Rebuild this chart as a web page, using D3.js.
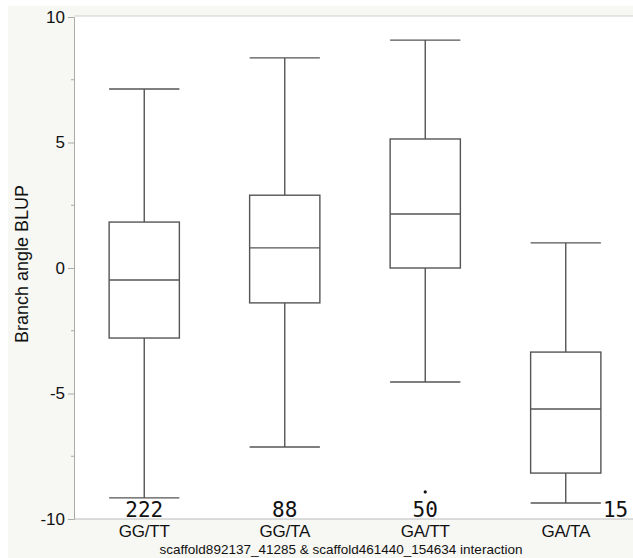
<!DOCTYPE html>
<html>
<head>
<meta charset="utf-8">
<script src="https://cdn.jsdelivr.net/npm/d3@7"></script>
<style>
  body { margin: 0; background: #fff; }
  svg { display: block; }
</style>
</head>
<body>
<script>
var width = 633,
    height = 558;

// data
var categories = ["GG/TT", "GG/TA", "GA/TT", "GA/TA"];
var whiskerHigh = [7.13, 8.37, 9.08, 1.0];
var q3 = [1.83, 2.9, 5.14, -3.35];
var medians = [-0.48, 0.8, 2.15, -5.62];
var q1 = [-2.79, -1.39, 0.0, -8.17];
var whiskerLow = [-9.16, -7.13, -4.54, -9.36];
var counts = [222, 88, 50, 15];
var outliers = [{cat: "GA/TT", value: -8.92}];
var yTicks = [-10, -5, 0, 5, 10];
var yMinorTicks = [-7.5, -2.5, 2.5, 7.5];

var margin = {top: 17, right: -3, bottom: 39, left: 74};

var svg = d3.select("body").append("svg")
    .attr("width", width)
    .attr("height", height);

// off-white frame, white plot area
svg.append("rect")
    .attr("x", 8).attr("y", 6)
    .attr("width", width - 8).attr("height", height - 6)
    .attr("fill", "#f7f7f3");

var x = d3.scaleBand()
    .domain(categories)
    .range([margin.left, width - margin.right])
    .padding(0);

var y = d3.scaleLinear()
    .domain([-10, 10])
    .range([height - margin.bottom, margin.top]);

svg.append("rect")
    .attr("x", margin.left)
    .attr("y", y(10) - 1)
    .attr("width", width - margin.left)
    .attr("height", y(-10) - y(10) + 1)
    .attr("fill", "#fff");

// top border
svg.append("line")
    .attr("x1", margin.left).attr("x2", width)
    .attr("y1", y(10) - 1).attr("y2", y(10) - 1)
    .attr("stroke", "#cfcfcb").attr("stroke-width", 1);

// y axis
var yAxis = svg.append("g")
    .attr("transform", `translate(${margin.left},0)`)
    .call(d3.axisLeft(y).tickValues(yTicks).tickSize(6).tickPadding(3).tickFormat(d => String(d)));
yAxis.select(".domain").attr("stroke", "#aaa");
yAxis.selectAll(".tick line").attr("stroke", "#aaa");
yAxis.selectAll(".tick text")
    .attr("fill", "#111")
    .style("font-family", "Liberation Sans, Arial, sans-serif")
    .style("font-size", "17px");

svg.append("g")
    .selectAll("line")
    .data(yMinorTicks)
    .join("line")
      .attr("x1", margin.left - 3).attr("x2", margin.left)
      .attr("y1", d => y(d)).attr("y2", d => y(d))
      .attr("stroke", "#aaa");

// x axis line
svg.append("line")
    .attr("x1", margin.left).attr("x2", width)
    .attr("y1", y(-10)).attr("y2", y(-10))
    .attr("stroke", "#bbb");

svg.append("text")
    .attr("transform", `translate(28,${y(0) - 4}) rotate(-90)`)
    .attr("text-anchor", "middle")
    .attr("fill", "#111")
    .style("font-family", "Liberation Sans, Arial, sans-serif")
    .style("font-size", "18px")
    .text("Branch angle BLUP");

// boxes
var stats = categories.map((c, i) => ({
  cat: c, hi: whiskerHigh[i], q3: q3[i], med: medians[i], q1: q1[i], lo: whiskerLow[i], n: counts[i]
}));

var boxW = x.bandwidth() / 2;
var stroke = "#555";

var g = svg.append("g")
    .attr("fill", "none")
    .attr("stroke", stroke)
    .attr("stroke-width", 1.4);

var box = g.selectAll("g")
    .data(stats)
    .join("g")
      .attr("transform", d => `translate(${x(d.cat) + x.bandwidth() / 2},0)`);

box.append("line")
    .attr("y1", d => y(d.hi)).attr("y2", d => y(d.q3));
box.append("line")
    .attr("y1", d => y(d.q1)).attr("y2", d => y(d.lo));
box.append("line")
    .attr("x1", -boxW / 2).attr("x2", boxW / 2)
    .attr("y1", d => y(d.hi)).attr("y2", d => y(d.hi));
box.append("line")
    .attr("x1", -boxW / 2).attr("x2", boxW / 2)
    .attr("y1", d => y(d.lo)).attr("y2", d => y(d.lo));
box.append("rect")
    .attr("x", -boxW / 2)
    .attr("width", boxW)
    .attr("y", d => y(d.q3))
    .attr("height", d => y(d.q1) - y(d.q3));
box.append("line")
    .attr("x1", -boxW / 2).attr("x2", boxW / 2)
    .attr("y1", d => y(d.med)).attr("y2", d => y(d.med));

svg.append("g")
    .selectAll("circle")
    .data(outliers)
    .join("circle")
      .attr("cx", d => x(d.cat) + x.bandwidth() / 2)
      .attr("cy", d => y(d.value))
      .attr("r", 1.6)
      .attr("fill", "#111");

// counts: move to the right of the cap when the cap would cover them
var countTop = y(-10) - 18;
svg.append("g")
    .selectAll("text")
    .data(stats)
    .join("text")
      .attr("x", d => x(d.cat) + x.bandwidth() / 2 + (y(d.lo) > countTop ? boxW / 2 + 2 : 0))
      .attr("y", y(-10) - 2)
      .attr("text-anchor", d => y(d.lo) > countTop ? "start" : "middle")
      .attr("fill", "#111")
      .style("font-family", "DejaVu Sans Mono, monospace")
      .style("font-size", "21px")
      .text(d => d.n);

// category labels
svg.append("g")
    .selectAll("text")
    .data(categories)
    .join("text")
      .attr("x", d => x(d) + x.bandwidth() / 2)
      .attr("y", y(-10) + 18)
      .attr("text-anchor", "middle")
      .attr("fill", "#111")
      .style("font-family", "Liberation Sans, Arial, sans-serif")
      .style("font-size", "17px")
      .style("letter-spacing", "-0.2px")
      .text(d => d);

svg.append("text")
    .attr("x", 341)
    .attr("y", height - 4)
    .attr("text-anchor", "middle")
    .attr("fill", "#111")
    .style("font-family", "Liberation Sans, Arial, sans-serif")
    .style("font-size", "13.5px")
    .text("scaffold892137_41285 & scaffold461440_154634 interaction");
</script>
</body>
</html>
